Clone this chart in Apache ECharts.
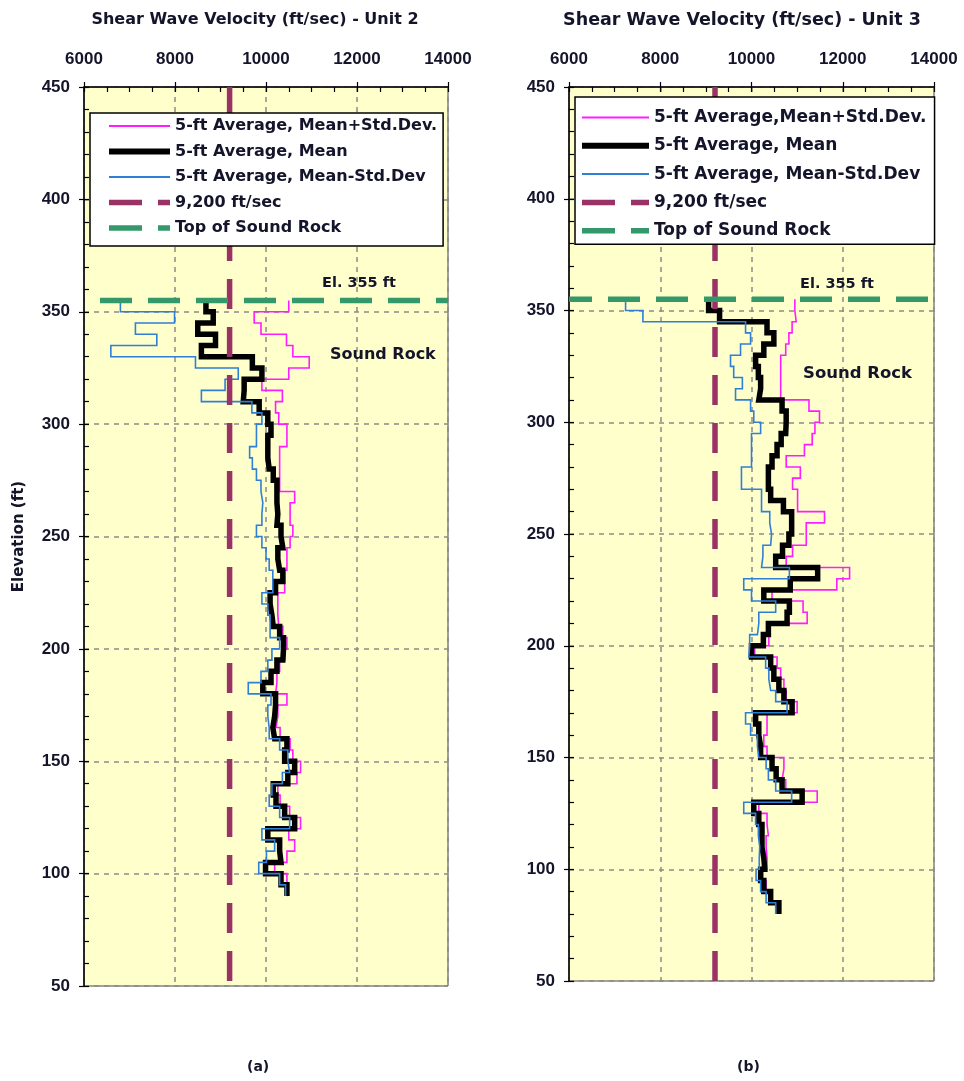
<!DOCTYPE html>
<html>
<head>
<meta charset="utf-8">
<script src="https://cdn.jsdelivr.net/npm/echarts@6/dist/echarts.min.js"></script>
<style>
  html, body { margin: 0; padding: 0; background: #ffffff; }
  #chart { width: 964px; height: 1081px; }
</style>
</head>
<body>
<div id="chart"></div>
<script>
// Elevation (ft) at the top of each 5-ft averaging interval
const unit2Tops = [355,350,345,340,335,330,325,320,315,310,305,300,295,290,285,280,275,270,265,260,255,250,245,240,235,230,225,220,215,210,205,200,195,190,185,180,175,170,165,160,155,150,145,140,135,130,125,120,115,110,105,100,95];
const unit3Tops = [355,350,345,340,335,330,325,320,315,310,305,300,295,290,285,280,275,270,265,260,255,250,245,240,235,230,225,220,215,210,205,200,195,190,185,180,175,170,165,160,155,150,145,140,135,130,125,120,115,110,105,100,95,90,85];
const intervalFt = 5;

// Unit 2 shear wave velocity (ft/sec), 5-ft averages
const unit2Upper = [10500,9740,9890,10450,10590,10950,10500,9910,10360,10210,10280,10460,10460,10300,10300,10300,10300,10630,10530,10530,10590,10530,10460,10460,10410,10410,10260,10260,10280,10370,10460,10410,10300,10240,10210,10460,10260,10220,10310,10530,10590,10760,10680,10260,10310,10520,10760,10500,10630,10460,10190,10460,10480];
const unit2Mean  = [8680,8840,8500,8890,8580,9700,9910,9520,9500,9850,10040,10110,10040,10040,10070,10160,10240,10240,10260,10240,10330,10370,10260,10300,10370,10210,10090,10130,10160,10300,10385,10370,10240,10110,9930,10210,10190,10150,10190,10460,10410,10630,10480,10160,10220,10410,10630,10040,10300,10330,9990,10330,10460];
const unit2Lower = [6800,7990,7130,7600,6590,8450,9390,9100,8580,9690,9910,9790,9790,9640,9700,9790,9890,9930,9910,9910,9790,9910,10000,10070,10150,10150,9910,10040,10090,10090,10300,10130,10040,9890,9610,10110,10040,10070,10070,10300,10480,10520,10360,10130,10070,10300,10520,9910,10190,10010,9840,10300,10430];

// Unit 3 shear wave velocity (ft/sec), 5-ft averages
const unit3Upper = [10950,10980,10890,10820,10750,10640,10640,10640,10640,11260,11490,11390,11330,11160,10760,11070,10900,11010,11010,11600,11200,11200,10900,10760,12150,11870,10450,11130,11220,10380,10380,10070,10560,10640,10710,10760,11000,10340,10340,10270,10340,10710,10670,10750,11440,10160,10340,10370,10320,10340,10340,10240,10320,10400,10600];
const unit3Mean  = [9060,9300,10340,10490,10270,10090,10150,10200,10160,10670,10760,10750,10650,10560,10450,10370,10370,10420,10700,10880,10880,10820,10680,10530,11450,10850,10270,10830,10780,10370,10260,10000,10420,10490,10600,10710,10890,10090,10160,10200,10200,10450,10540,10670,11110,10050,10160,10230,10230,10270,10290,10200,10270,10420,10600];
const unit3Lower = [7240,7620,9870,9980,9760,9540,9610,9800,9650,9980,10050,10200,10000,10000,10000,9780,9780,10220,10220,10400,10440,10420,10250,10220,10830,9830,10000,10530,10160,10130,9960,9940,10310,10380,10420,10530,10780,9870,9980,10130,10160,10320,10370,10530,10880,9830,10090,10150,10180,10170,10170,10100,10200,10320,10530];

// Reference values
const thresholdVs = 9200;      // ft/sec
const soundRockTop = 355;      // ft
const velocityRange = [6000, 14000];
const elevationRange = [50, 450];

// Text
const panelTitles = ['Shear Wave Velocity (ft/sec) - Unit 2', 'Shear Wave Velocity (ft/sec) - Unit 3'];
const upperNames = ['5-ft Average, Mean+Std.Dev.', '5-ft Average,Mean+Std.Dev.'];
const meanName = '5-ft Average, Mean';
const lowerName = '5-ft Average, Mean-Std.Dev';
const thresholdName = '9,200 ft/sec';
const rockName = 'Top of Sound Rock';

// Turn interval averages into a stepped vertical profile
function profile(tops, values) {
  const pts = [];
  tops.forEach((top, i) => {
    pts.push([values[i], top]);
    pts.push([values[i], top - intervalFt]);
  });
  return pts;
}

const NUM_FONT = 'Liberation Sans, Arial, sans-serif';
const TXT_FONT = 'DejaVu Sans, Verdana, sans-serif';
const INK = '#14142a';

const COLORS = { upper: '#ff1cff', mean: '#000000', lower: '#2f7fd6', threshold: '#993366', rock: '#33996a' };
const THRESHOLD_DASH = [30, 18];
const ROCK_DASH = [32, 16];

const grids = [
  { left: 84, top: 87, width: 364, height: 899 },
  { left: 569, top: 87, width: 365, height: 894 }
];

function mainX(gi) {
  return {
    type: 'value', gridIndex: gi, position: 'top',
    min: velocityRange[0], max: velocityRange[1], interval: 2000,
    axisLine: { show: true, lineStyle: { color: '#000', width: 1.5 } },
    axisTick: { show: true, inside: true, length: 5, lineStyle: { color: '#000', width: 1.2 } },
    minorTick: { show: true, splitNumber: 4, length: 5, lineStyle: { color: '#000', width: 1.2 } },
    axisLabel: { show: true, margin: 19, color: INK, fontFamily: NUM_FONT, fontWeight: 'bold', fontSize: 17,
      formatter: v => String(v) },
    splitLine: { show: true, lineStyle: { color: '#8a8a8a', width: 1.5, type: [5, 5] } }
  };
}
function outerX(gi) {
  return {
    type: 'value', gridIndex: gi, position: 'top',
    min: velocityRange[0], max: velocityRange[1], interval: 2000,
    axisLine: { show: false },
    axisTick: { show: true, inside: false, length: 5, lineStyle: { color: '#000', width: 1.2 } },
    axisLabel: { show: false }, splitLine: { show: false }
  };
}
function mainY(gi, withName) {
  const ax = {
    type: 'value', gridIndex: gi, position: 'left',
    min: elevationRange[0], max: elevationRange[1], interval: 50,
    axisLine: { show: true, lineStyle: { color: '#000', width: 1.5 } },
    axisTick: { show: true, inside: true, length: 5, lineStyle: { color: '#000', width: 1.2 } },
    minorTick: { show: true, splitNumber: 5, length: 5, lineStyle: { color: '#000', width: 1.2 } },
    axisLabel: { show: true, margin: 14, color: INK, fontFamily: NUM_FONT, fontWeight: 'bold', fontSize: 17,
      formatter: v => String(v) },
    splitLine: { show: true, lineStyle: { color: '#8a8a8a', width: 1.5, type: [5, 5] } }
  };
  if (withName) {
    ax.name = 'Elevation (ft)';
    ax.nameLocation = 'middle';
    ax.nameGap = 57;
    ax.nameRotate = 90;
    ax.nameTextStyle = { color: INK, fontFamily: TXT_FONT, fontWeight: 'bold', fontSize: 15 };
  }
  return ax;
}
function outerY(gi) {
  return {
    type: 'value', gridIndex: gi, position: 'left',
    min: elevationRange[0], max: elevationRange[1], interval: 50,
    axisLine: { show: false },
    axisTick: { show: true, inside: false, length: 5, lineStyle: { color: '#000', width: 1.2 } },
    axisLabel: { show: false }, splitLine: { show: false }
  };
}

function panelSeries(p, tops, upper, mean, lower, rockDashOffset) {
  const base = { type: 'line', xAxisIndex: p, yAxisIndex: p, symbol: 'none', showSymbol: false, silent: true, animation: false };
  return [
    Object.assign({}, base, { name: upperNames[p], data: profile(tops, upper), z: 3,
      itemStyle: { color: COLORS.upper },
      lineStyle: { color: COLORS.upper, width: 1.6, join: 'miter' } }),
    Object.assign({}, base, { name: meanName, data: profile(tops, mean), z: 4,
      itemStyle: { color: COLORS.mean },
      lineStyle: { color: COLORS.mean, width: 5.5, join: 'miter', cap: 'butt' } }),
    Object.assign({}, base, { name: lowerName, data: profile(tops, lower), z: 5,
      itemStyle: { color: COLORS.lower },
      lineStyle: { color: COLORS.lower, width: 1.6, join: 'miter' } }),
    Object.assign({}, base, { name: thresholdName, data: [[thresholdVs, elevationRange[1]], [thresholdVs, elevationRange[0]]], z: 6,
      itemStyle: { color: COLORS.threshold },
      lineStyle: { color: COLORS.threshold, width: 5.5, type: THRESHOLD_DASH, cap: 'butt' } }),
    Object.assign({}, base, { name: rockName, data: [[velocityRange[0], soundRockTop], [velocityRange[1], soundRockTop]], z: 7,
      itemStyle: { color: COLORS.rock },
      lineStyle: { color: COLORS.rock, width: 5.5, type: ROCK_DASH, dashOffset: rockDashOffset, cap: 'butt' } })
  ];
}

function legendFor(p, cfg) {
  const keyDash = [33, 16];
  return {
    show: true, orient: 'vertical', left: cfg.left, top: cfg.top, z: 20,
    data: [
      { name: upperNames[p], lineStyle: { color: COLORS.upper, width: 2, type: 'solid' } },
      { name: meanName, lineStyle: { color: COLORS.mean, width: 6, type: 'solid' } },
      { name: lowerName, lineStyle: { color: COLORS.lower, width: 2, type: 'solid' } },
      { name: thresholdName, lineStyle: { color: COLORS.threshold, width: 5.5, type: keyDash, dashOffset: 0, cap: 'butt' } },
      { name: rockName, lineStyle: { color: COLORS.rock, width: 5.5, type: keyDash, dashOffset: 0, cap: 'butt' } }
    ],
    itemWidth: cfg.itemWidth, itemHeight: 14, itemGap: cfg.gap,
    itemStyle: { opacity: 0 },
    padding: cfg.padding,
    backgroundColor: '#ffffff', borderColor: '#000000', borderWidth: 1.5, borderRadius: 0,
    selectedMode: false,
    textStyle: { color: INK, fontFamily: TXT_FONT, fontWeight: 'bold', fontSize: cfg.fontSize }
  };
}

function note(x, y, text, size) {
  return { type: 'text', left: x, top: y, silent: true, z: 20,
    style: { text: text, fill: INK, font: 'bold ' + size + 'px ' + TXT_FONT } };
}

const option = {
  animation: false,
  backgroundColor: '#ffffff',
  title: [
    { text: panelTitles[0], left: 250, top: 7, textAlign: 'center',
      textStyle: { color: INK, fontFamily: TXT_FONT, fontWeight: 'bold', fontSize: 16 } },
    { text: panelTitles[1], left: 737, top: 6, textAlign: 'center',
      textStyle: { color: INK, fontFamily: TXT_FONT, fontWeight: 'bold', fontSize: 17.5 } }
  ],
  grid: grids.map(g => Object.assign({ show: true, backgroundColor: '#ffffcc', borderColor: '#444', borderWidth: 1 }, g)),
  xAxis: [mainX(0), mainX(1), outerX(0), outerX(1)],
  yAxis: [mainY(0, true), mainY(1, false), outerY(0), outerY(1)],
  legend: [
    legendFor(0, { left: 90, top: 113, padding: [5, 6, 10, 16], itemWidth: 61, gap: 9.5, fontSize: 16 }),
    legendFor(1, { left: 575, top: 97, padding: [12, 8, 5, 4], itemWidth: 67, gap: 11.3, fontSize: 17 })
  ],
  series: [].concat(
    panelSeries(0, unit2Tops, unit2Upper, unit2Mean, unit2Lower, 32),
    panelSeries(1, unit3Tops, unit3Upper, unit3Mean, unit3Lower, 9)
  ),
  graphic: [
    note(322, 276, 'El. 355 ft', 14.5),
    note(330, 347, 'Sound Rock', 16),
    note(800, 277, 'El. 355 ft', 14.5),
    note(803, 365, 'Sound Rock', 16.5),
    note(247, 1060, '(a)', 14),
    note(737, 1060, '(b)', 14)
  ]
};

const chart = echarts.init(document.getElementById('chart'), null, { renderer: 'canvas' });
chart.setOption(option);
</script>
</body>
</html>
